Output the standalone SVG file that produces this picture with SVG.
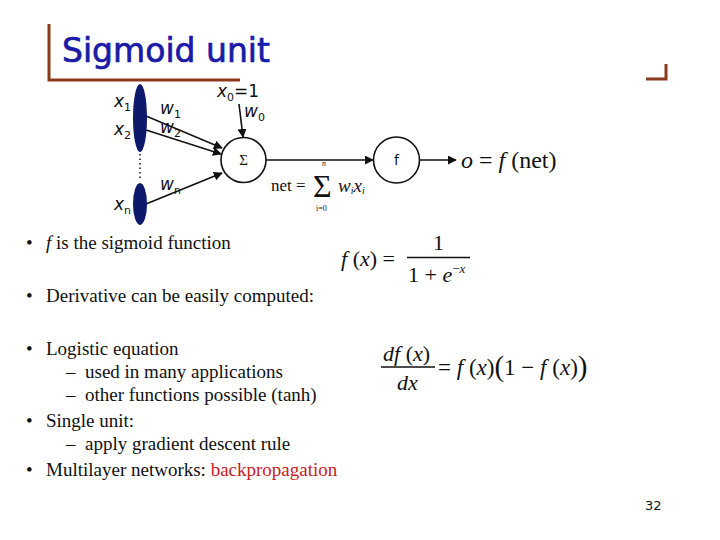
<svg xmlns="http://www.w3.org/2000/svg" width="720" height="540" viewBox="0 0 720 540">
<style>
.brk{stroke:#8b3a1e;stroke-width:3;fill:none}
.lbl{font-family:"DejaVu Sans",sans-serif;font-size:17px;fill:#111;font-style:italic}
.sub{font-size:11px;font-style:normal}
.tx{font-family:"Liberation Serif",serif;font-size:19px;fill:#111}
.m{font-family:"Liberation Serif",serif;fill:#111}
.ln{stroke:#111;stroke-width:1.6;fill:none}
.nd{fill:#fff;stroke:#111;stroke-width:1.6}
.inp{fill:#0d1a6b}
</style>
<defs>
<marker id="ah" viewBox="0 0 10 10" refX="9" refY="5" markerWidth="9" markerHeight="9" markerUnits="userSpaceOnUse" orient="auto">
<path d="M0,0 L10,5 L0,10 z" fill="#111"/>
</marker>
</defs>
<rect width="720" height="540" fill="#fff"/>
<g id="title">
<path class="brk" d="M49,24 V80 H240"/>
<path class="brk" d="M646,79 H666 V64"/>
<text x="62" y="62" font-family="DejaVu Sans,sans-serif" font-size="33" fill="#1a1aa6" stroke="#1a1aa6" stroke-width="0.7">Sigmoid unit</text>
</g>
<g id="connectors">
<line class="ln" x1="146" y1="116" x2="222" y2="148" marker-end="url(#ah)"/>
<line class="ln" x1="146" y1="130" x2="221" y2="154" marker-end="url(#ah)"/>
<line class="ln" x1="146" y1="204" x2="222" y2="173" marker-end="url(#ah)"/>
<line class="ln" x1="239" y1="104" x2="243" y2="137" marker-end="url(#ah)"/>
<line class="ln" x1="266" y1="160" x2="373" y2="160" marker-end="url(#ah)"/>
<line class="ln" x1="420" y1="160" x2="456" y2="160" marker-end="url(#ah)"/>
<line x1="140" y1="154" x2="140" y2="180" stroke="#111" stroke-width="1.5" stroke-dasharray="1.5,3"/>
</g>
<g id="input12">
<ellipse class="inp" cx="140" cy="118" rx="7" ry="34"/>
<text class="lbl" x="114" y="107">x<tspan class="sub" dy="4">1</tspan></text>
<text class="lbl" x="114" y="135">x<tspan class="sub" dy="4">2</tspan></text>
<text class="lbl" x="160" y="114">w<tspan class="sub" dy="4">1</tspan></text>
<text class="lbl" x="160" y="133">w<tspan class="sub" dy="4">2</tspan></text>
</g>
<g id="inputn">
<ellipse class="inp" cx="140" cy="204" rx="7" ry="21"/>
<text class="lbl" x="114" y="210">x<tspan class="sub" dy="4">n</tspan></text>
<text class="lbl" x="160" y="190">w<tspan class="sub" dy="4">n</tspan></text>
</g>
<g id="input0">
<text class="lbl" x="217" y="97">x<tspan class="sub" dy="4">0</tspan><tspan dy="-4" style="font-style:normal">=1</tspan></text>
<text class="lbl" x="244" y="117">w<tspan class="sub" dy="4">0</tspan></text>
</g>
<g id="sum">
<circle class="nd" cx="243.5" cy="160" r="22.5"/>
<text class="m" x="243.5" y="165" font-size="15" text-anchor="middle">Σ</text>
<text class="m" x="271" y="191" font-size="17">net =</text>
<text class="m" x="313" y="197" font-size="32">Σ</text>
<text class="m" x="322" y="166" font-size="8" font-style="italic">n</text>
<text class="m" x="316" y="211" font-size="8">i=0</text>
<text class="m" x="338" y="192" font-size="19" font-style="italic">w<tspan font-size="10" dy="2">i</tspan><tspan dy="-2">x</tspan><tspan font-size="10" dy="2">i</tspan></text>
</g>
<g id="fnode">
<circle class="nd" cx="396.5" cy="160" r="23"/>
<text x="396.5" y="165" font-family="DejaVu Sans,sans-serif" font-size="14" text-anchor="middle" fill="#111">f</text>
</g>
<g id="output">
<text class="m" x="461" y="168" font-size="24"><tspan font-style="italic">o</tspan> = <tspan font-style="italic">f</tspan> (net)</text>
</g>
<g id="formula1">
<text class="m" x="341" y="266" font-size="22"><tspan font-style="italic">f</tspan> (<tspan font-style="italic">x</tspan>) =</text>
<line x1="407" y1="257.5" x2="470" y2="257.5" stroke="#111" stroke-width="1.3"/>
<text class="m" x="433" y="250" font-size="22">1</text>
<text class="m" x="408" y="282" font-size="22">1 + <tspan font-style="italic">e</tspan><tspan font-size="13" dy="-9">−<tspan font-style="italic">x</tspan></tspan></text>
</g>
<g id="formula2">
<text class="m" x="383" y="361" font-size="22" font-style="italic">df <tspan font-style="normal">(</tspan>x<tspan font-style="normal">)</tspan></text>
<line x1="381" y1="367" x2="435" y2="367" stroke="#111" stroke-width="1.3"/>
<text class="m" x="397" y="390" font-size="22" font-style="italic">dx</text>
<text class="m" x="438" y="375" font-size="23">= <tspan font-style="italic">f</tspan> (<tspan font-style="italic">x</tspan>)<tspan font-size="29" dy="1">(</tspan><tspan dy="-1">1 − </tspan><tspan font-style="italic">f</tspan> (<tspan font-style="italic">x</tspan>)<tspan font-size="29" dy="1">)</tspan></text>
</g>
<g id="bullets">
<g class="tx">
<text x="26" y="249">•</text><text x="46" y="249"><tspan font-style="italic">f</tspan>  is the sigmoid function</text>
<text x="26" y="302">•</text><text x="46" y="302">Derivative can be easily computed:</text>
<text x="26" y="355">•</text><text x="46" y="355">Logistic equation</text>
<text x="66" y="378">–</text><text x="85" y="378">used in many applications</text>
<text x="66" y="401">–</text><text x="85" y="401">other functions possible (tanh)</text>
<text x="26" y="427">•</text><text x="46" y="427">Single unit:</text>
<text x="66" y="450">–</text><text x="85" y="450">apply gradient descent rule</text>
<text x="26" y="476">•</text><text x="46" y="476">Multilayer networks: <tspan fill="#c8201e">backpropagation</tspan></text>
</g>
</g>
<text x="645" y="510" font-family="DejaVu Sans,sans-serif" font-size="13" fill="#111">32</text>
</svg>
